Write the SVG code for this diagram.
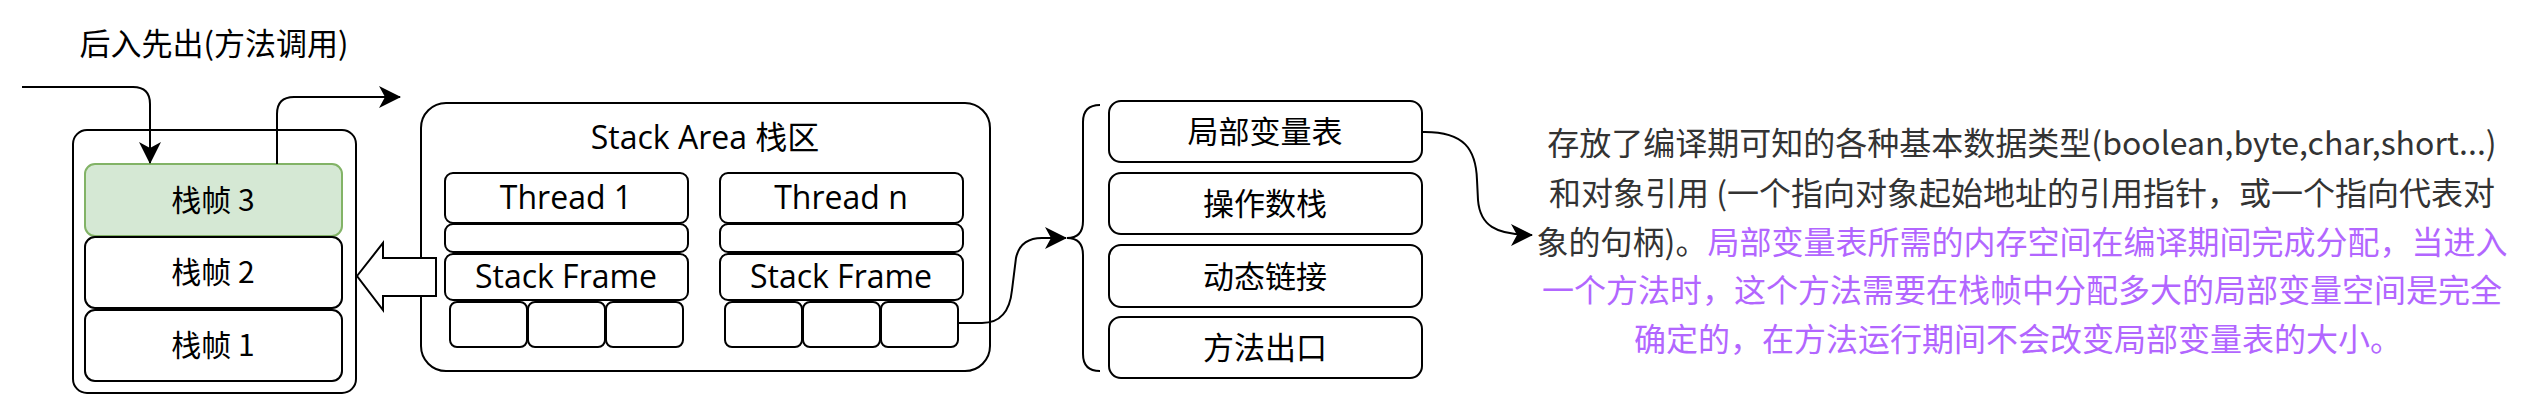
<svg xmlns="http://www.w3.org/2000/svg" width="2530" height="416" viewBox="0 0 2530 416">
<style>
.box{fill:#ffffff;stroke:#000000;stroke-width:2}
.green{fill:#d5e8d4;stroke:#82b366;stroke-width:2}
.edge{fill:none;stroke:#000000;stroke-width:2}
.cjk{font-family:"Noto Sans CJK SC","Noto Sans",sans-serif;fill:#000000;text-anchor:middle}
.lat{font-family:"Open Sans","Noto Sans CJK SC",sans-serif;fill:#000000;text-anchor:middle;font-size:32px}
.para{font-family:"Noto Sans CJK SC",sans-serif;font-size:32px;text-anchor:middle;fill:#333333}
.purple{fill:#B266FF}
</style>
<defs>
<marker id="arr" viewBox="0 0 22 22" markerWidth="22" markerHeight="22" refX="21" refY="11" orient="auto" markerUnits="userSpaceOnUse">
<path d="M0,0 L22,11 L0,22 L6,11 Z" fill="#000000"/>
</marker>
</defs>

<text class="cjk" x="214" y="55" font-size="31" fill="#222222">后入先出(方法调用)</text>

<g id="frames">
<rect class="box" x="73" y="130" width="283" height="263" rx="14"/>
</g>
<g id="frame3"><rect class="green" x="85" y="164" width="257" height="72" rx="10"/><text class="cjk" x="213" y="211" font-size="30">栈帧 3</text></g>
<g id="frame2"><rect class="box" x="85" y="237" width="257" height="71" rx="10"/><text class="cjk" x="213" y="283" font-size="30">栈帧 2</text></g>
<g id="frame1"><rect class="box" x="85" y="310" width="257" height="71" rx="10"/><text class="cjk" x="213" y="356" font-size="30">栈帧 1</text></g>

<g id="stack-area">
<rect class="box" x="421" y="103" width="569" height="268" rx="25"/>
<text class="lat" x="705" y="149">Stack Area 栈区</text>
</g>

<g id="thread1">
<rect class="box" x="445" y="173" width="243" height="50" rx="8"/>
<text class="lat" x="566" y="209">Thread 1</text>
<rect class="box" x="445" y="224" width="243" height="28" rx="8"/>
<rect class="box" x="445" y="254" width="243" height="46" rx="8"/>
<text class="lat" x="566" y="288">Stack Frame</text>
<rect class="box" x="450" y="302" width="77" height="45" rx="7"/>
<rect class="box" x="528" y="302" width="77" height="45" rx="7"/>
<rect class="box" x="606" y="302" width="77" height="45" rx="7"/>
</g>

<g id="threadn">
<rect class="box" x="720" y="173" width="243" height="50" rx="8"/>
<text class="lat" x="841" y="209">Thread n</text>
<rect class="box" x="720" y="224" width="243" height="28" rx="8"/>
<rect class="box" x="720" y="254" width="243" height="46" rx="8"/>
<text class="lat" x="841" y="288">Stack Frame</text>
<rect class="box" x="725" y="302" width="77" height="45" rx="7"/>
<rect class="box" x="803" y="302" width="77" height="45" rx="7"/>
<rect class="box" x="881" y="302" width="77" height="45" rx="7"/>
</g>

<g id="push-arrow">
<polygon class="box" points="357,276 383,243 383,258 436,258 436,296 383,296 383,310"/>
</g>

<g id="brace">
<path class="edge" d="M1100,105 Q1083,105 1083,122 V221 Q1083,238 1067,238 Q1083,238 1083,255 V354 Q1083,371 1100,371"/>
</g>

<g id="local-vars"><rect class="box" x="1109" y="101" width="313" height="61" rx="12"/><text class="cjk" x="1265" y="143" font-size="31">局部变量表</text></g>
<g id="operand-stack"><rect class="box" x="1109" y="173" width="313" height="61" rx="12"/><text class="cjk" x="1265" y="215" font-size="31">操作数栈</text></g>
<g id="dynamic-link"><rect class="box" x="1109" y="245" width="313" height="62" rx="12"/><text class="cjk" x="1265" y="288" font-size="31">动态链接</text></g>
<g id="method-exit"><rect class="box" x="1109" y="317" width="313" height="61" rx="12"/><text class="cjk" x="1265" y="359" font-size="31">方法出口</text></g>

<g id="description">
<text class="para" x="2022" y="155">存放了编译期可知的各种基本数据类型(boolean,byte,char,short...)</text>
<text class="para" x="2022" y="205">和对象引用 (一个指向对象起始地址的引用指针，或一个指向代表对</text>
<text class="para" x="2022" y="254">象的句柄)。<tspan class="purple">局部变量表所需的内存空间在编译期间完成分配，当进入</tspan></text>
<text class="para purple" x="2022" y="302">一个方法时，这个方法需要在栈帧中分配多大的局部变量空间是完全</text>
<text class="para purple" x="2018" y="351">确定的，在方法运行期间不会改变局部变量表的大小。</text>
</g>

<g id="connectors">
<path class="edge" d="M22,87 H133 Q150,87 150,104 V163" marker-end="url(#arr)"/>
<path class="edge" d="M277,164 V114 Q277,97 294,97 H400" marker-end="url(#arr)"/>
<path class="edge" d="M958,323 H982 C1002,323 1010,310 1012,290 L1016,258 C1019,244 1028,238 1042,238 H1066" marker-end="url(#arr)"/>
<path class="edge" d="M1422,132 C1465,131 1476,150 1477,180 L1478,200 C1480,225 1495,235 1532,235" marker-end="url(#arr)"/>
</g>
</svg>
